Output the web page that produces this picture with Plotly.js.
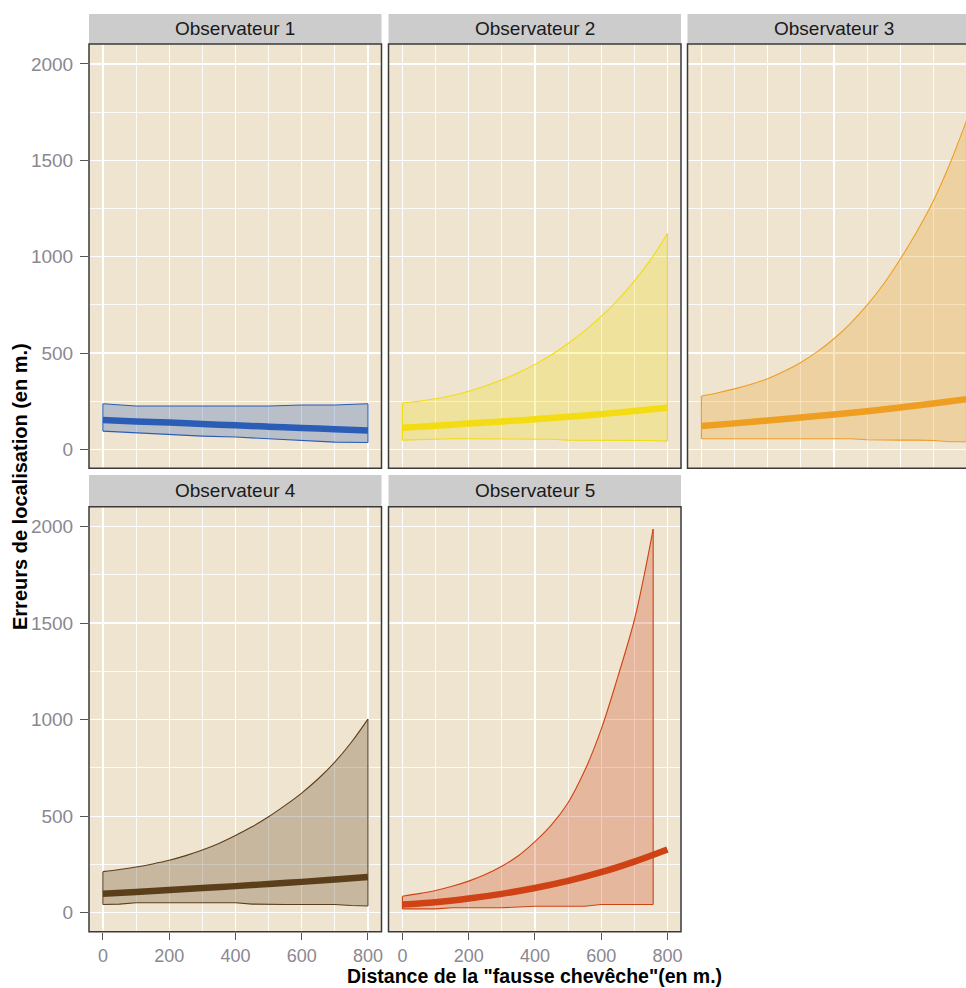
<!DOCTYPE html>
<html>
<head>
<meta charset="utf-8">
<script src="https://cdn.plot.ly/plotly-3.0.1.min.js"></script>
<style>
html,body{margin:0;padding:0;overflow:hidden;background:#fff;}
#chart{width:990px;height:988px;}
</style>
</head>
<body>
<div id="chart"></div>
<script>
// ---- data ----
const panelNames = ["Observateur 1","Observateur 2","Observateur 3","Observateur 4","Observateur 5"];
const colors = ["#2B5DB6","#F3DC12","#EE9E20","#5B3F1A","#CF4216"];

const dist100 = [0,100,200,300,400,500,600,700,800];
const dist50 = [0,50,100,150,200,250,300,350,400,450,500,550,600,650,700,750,800];
const dist5 = [0,50,100,150,200,250,300,350,400,450,500,550,600,650,700,730,757];

const fit1 = [152,145,139,132,125,118,111,105,98];
const up1 = [237,225,225,225,225,225,230,230,237];
const lo1 = [95,86,78,69,64,55,48,38,36];

const fit2 = [112,123,134,145,156,169,183,199,216];
const up2 = [241,250,263,280,302,329,361,398,441,491,549,615,690,775,873,986,1120];
const lo2 = [48,50,55,55,55,55,55,55,55,53,48,48,48,48,48,46,43];

const fit3 = [121,135,150,165,181,198,217,238,260];
const up3 = [277,294,314,338,367,405,451,507,574,654,748,858,986,1129,1289,1482,1704];
const lo3 = [55,55,55,55,55,55,55,55,55,55,50,48,48,48,46,40,40];

const fit4 = [99,108,118,128,138,149,160,172,185];
const up4 = [213,224,237,253,272,296,325,359,400,445,497,556,620,694,780,883,1003];
const lo4 = [43,45,52,52,52,52,52,52,52,45,43,43,43,43,43,38,35];

const fit5 = [43,55,74,98,128,165,210,265,328];
const up5 = [86,99,115,137,164,198,241,295,368,455,570,735,950,1220,1515,1750,1987];
const lo5 = [20,20,20,26,26,26,26,30,34,34,34,34,43,43,43,43,43];

const xTicks = [0,200,400,600,800];
const yTicks = [0,500,1000,1500,2000];

const panels = [
  {rx: dist100, up: up1, lo: lo1, fx: dist100, fit: fit1, upShape: "linear"},
  {rx: dist50, up: up2, lo: lo2, fx: dist100, fit: fit2, upShape: "spline"},
  {rx: dist50, up: up3, lo: lo3, fx: dist100, fit: fit3, upShape: "spline"},
  {rx: dist50, up: up4, lo: lo4, fx: dist100, fit: fit4, upShape: "spline"},
  {rx: dist5, up: up5, lo: lo5, fx: dist100, fit: fit5, upShape: "spline"}
];

// ---- layout geometry (pixels) ----
const W = 990, H = 988;
const cols = [[89,381.5],[388.5,681],[687.5,980]];
const rows = [[44,468.3],[506.7,931.7]];
const strips = [[14,44],[475,506.7]];

function hexToRgba(hex, a){
  const n = parseInt(hex.slice(1),16);
  return `rgba(${(n>>16)&255},${(n>>8)&255},${n&255},${a})`;
}

const traces = [];
const layout = {
  width: W, height: H,
  margin: {l:0,r:0,t:0,b:0},
  paper_bgcolor: "#ffffff",
  plot_bgcolor: "#EEE4CF",
  showlegend: false,
  font: {family: "Liberation Sans, Arial, sans-serif"},
  shapes: [], annotations: []
};

panels.forEach((p, i) => {
  const r = Math.floor(i/3), c = i%3;
  const sfx = i === 0 ? "" : String(i+1);
  const xa = "x" + sfx, ya = "y" + sfx;
  const col = colors[i];
  const n = p.rx.length;
  // lower bound
  traces.push({
    x: p.rx, y: p.lo, xaxis: xa, yaxis: ya, type: "scatter", mode: "lines",
    line: {color: col, width: 1.1, shape: "linear"}, hoverinfo: "skip"
  });
  // upper bound, ribbon fill
  traces.push({
    x: p.rx, y: p.up, xaxis: xa, yaxis: ya, type: "scatter", mode: "lines",
    fill: "tonexty", fillcolor: hexToRgba(col, 0.27),
    line: {color: col, width: 1.1, shape: p.upShape, smoothing: 1}, hoverinfo: "skip"
  });
  // ribbon end edges
  traces.push({
    x: [p.rx[0], p.rx[0], null, p.rx[n-1], p.rx[n-1]],
    y: [p.lo[0], p.up[0], null, p.lo[n-1], p.up[n-1]],
    xaxis: xa, yaxis: ya, type: "scatter", mode: "lines",
    line: {color: col, width: 1.1}, hoverinfo: "skip"
  });
  // fitted curve
  traces.push({
    x: p.fx, y: p.fit, xaxis: xa, yaxis: ya, type: "scatter", mode: "lines",
    line: {color: col, width: 6.5, shape: "spline", smoothing: 1}, hoverinfo: "skip"
  });

  const showX = (r === 1);
  const showY = (c === 0);
  layout["xaxis" + sfx] = {
    domain: [cols[c][0]/W, cols[c][1]/W],
    range: [-42, 841],
    anchor: ya,
    tickvals: xTicks,
    showticklabels: showX,
    ticks: showX ? "outside" : "",
    ticklen: 7, tickcolor: "#555", tickwidth: 1,
    ticklabelstandoff: 1,
    tickfont: {size: 18, color: "#8A8890"},
    showgrid: true, gridcolor: "#FFFFFF", gridwidth: 1.3,
    minor: {dtick: 100, tick0: 0, showgrid: true, gridcolor: "rgba(255,255,255,0.85)", gridwidth: 1, ticks: ""},
    zeroline: false, showline: false, fixedrange: true
  };
  layout["yaxis" + sfx] = {
    domain: [1 - rows[r][1]/H, 1 - rows[r][0]/H],
    range: [-98, 2103],
    anchor: xa,
    tickvals: yTicks,
    showticklabels: showY,
    ticks: showY ? "outside" : "",
    ticklen: 8, tickcolor: "#555", tickwidth: 1,
    ticklabelstandoff: 3,
    tickfont: {size: 19, color: "#8A8890"},
    showgrid: true, gridcolor: "#FFFFFF", gridwidth: 1.3,
    minor: {dtick: 250, tick0: 0, showgrid: true, gridcolor: "rgba(255,255,255,0.85)", gridwidth: 1, ticks: ""},
    zeroline: false, showline: false, fixedrange: true
  };
  // panel border
  layout.shapes.push({
    type: "rect", xref: xa + " domain", yref: ya + " domain",
    x0: 0, x1: 1, y0: 0, y1: 1, line: {color: "#3A3A3A", width: 1.5},
    fillcolor: "rgba(0,0,0,0)", layer: "above"
  });
  // strip
  layout.shapes.push({
    type: "rect", xref: "paper", yref: "paper",
    x0: cols[c][0]/W, x1: cols[c][1]/W,
    y0: 1 - strips[r][1]/H, y1: 1 - strips[r][0]/H,
    fillcolor: "#CCCCCC", line: {width: 0}, layer: "below"
  });
  layout.annotations.push({
    text: panelNames[i], xref: "paper", yref: "paper",
    x: (cols[c][0] + cols[c][1]) / 2 / W,
    y: 1 - (strips[r][0] + strips[r][1]) / 2 / H,
    xanchor: "center", yanchor: "middle", showarrow: false,
    font: {size: 19, color: "#1A1A1A"}
  });
});

// axis titles
layout.annotations.push({
  text: "<b>Distance de la \"fausse chevêche\"(en m.)</b>",
  xref: "paper", yref: "paper", x: 534/W, y: 1 - 975.5/H,
  xanchor: "center", yanchor: "middle", showarrow: false,
  font: {size: 19.5, color: "#000000"}
});
layout.annotations.push({
  text: "<b>Erreurs de localisation (en m.)</b>",
  xref: "paper", yref: "paper", x: 20/W, y: 1 - 487/H,
  xanchor: "center", yanchor: "middle", showarrow: false, textangle: -90,
  font: {size: 20, color: "#000000"}
});

Plotly.newPlot("chart", traces, layout, {staticPlot: true, displayModeBar: false});
</script>
</body>
</html>
